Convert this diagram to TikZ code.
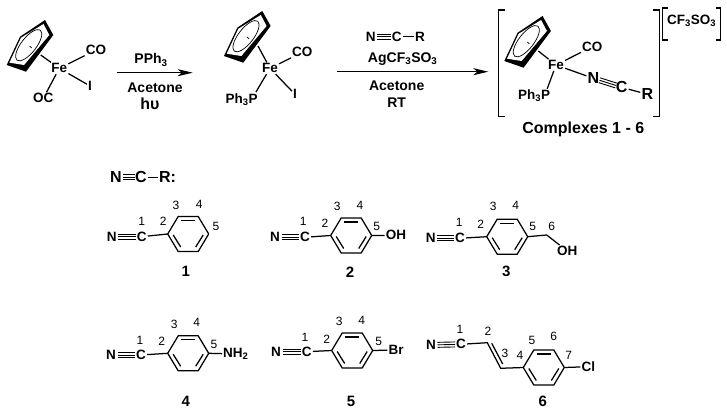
\documentclass[tikz,border=0pt]{standalone}
\usepackage{fontspec}
\setmainfont{Liberation Sans}
\usepackage{tikz}
\usetikzlibrary{positioning, arrows, arrows.meta, calc}

\tikzset{
  bond/.style={line width=1.25pt},
  rxn/.style={line width=1.25pt, -{Stealth[length=15pt,width=7pt,inset=4pt]}},
  brk/.style={line width=1.3pt},
  chem/.style={font=\fontsize{13.5}{15}\selectfont\bfseries, inner sep=1pt},
  bigchem/.style={font=\fontsize{16}{18}\selectfont\bfseries, inner sep=1pt},
  cond/.style={font=\fontsize{14}{16}\selectfont\bfseries, inner sep=1pt},
  num/.style={font=\fontsize{12}{13}\selectfont, inner sep=0pt},
  cpd/.style={font=\fontsize{15}{16}\selectfont\bfseries, inner sep=0pt},
  % cyclopentadienyl ring, origin at its centre
  cpring/.pic={
    \fill (14.3,-28)--(22.6,-13)--(-4.7,23.7)--(-24,17)--(-10.7,-11.3)--cycle;
    \fill[white] (12.8,-24)--(18.6,-13)--(-6.7,17)--(-21.3,14.7)--(-9.7,-10.2)--cycle;
    \draw[line width=0.7pt, shift={(-2,-2.8)}, rotate=52] (0,0) ellipse (19pt and 7.5pt);
    \draw[line width=0.7pt] (-1,-2)--(1,0);
    \coordinate (-b) at (10,7);
  },
  % benzene ring, origin at its left vertex
  benzene/.pic={
    \draw[bond, line join=round] (0,0)--(10.5,-17.5)--(30.5,-17.5)--(41,0)--(30.5,17.5)--(10.5,17.5)--cycle;
    \draw[bond] (13.5,-13.5)--(27.5,-13.5);
    \draw[bond] (5.5,1)--(13,13);
    \draw[bond] (35.5,1)--(28,13);
    \coordinate (-l) at (0,0);
    \coordinate (-r) at (41,0);
  }
}
\newcommand{\cnbond}[2]{%
  \coordinate (t1) at ($(#1)!6.5pt!(#2)$);
  \coordinate (t2) at ($(#2)!6pt!(#1)$);
  \foreach \s in {-2.5,0,2.5}{
    \draw[line width=0.9pt] ($(t1)!\s pt!90:(t2)$)--($(t2)!\s pt!-90:(t1)$);
  }
}

\begin{document}
\begin{tikzpicture}[x=1pt,y=-1pt]
\useasboundingbox (0,0) rectangle (727,411);

% First complex
\pic (cpa) at (30.7,48) {cpring};
\node[chem] (fea) at (59.3,68.3) {Fe};
\node[chem] (coa) at (96,50) {CO};
\node[chem] (ia) at (90,86) {I};
\node[chem] (oca) at (43.3,98.3) {OC};
\draw[bond] (cpa-b)--(fea);
\draw[bond] (fea)--(coa);
\draw[bond] (fea)--(ia);
\draw[bond] (fea)--(oca);

% First reaction arrow
\coordinate (ra1) at (117.3,72.7);
\coordinate (ra2) at (192.7,72.7);
\draw[rxn] (ra1)--(ra2);
\node[cond] (pph) at (151,60) {PPh\textsubscript{3}};
\node[cond] (ace1) at (155,87.3) {Acetone};
\node[bigchem] (hnu) at (150,104) {hυ};

% Second complex
\pic (cpb) at (248,39) {cpring};
\node[chem] (feb) at (270,68.3) {Fe};
\node[chem] (cob) at (302.3,52.3) {CO};
\node[chem] (ib) at (295,94.3) {I};
\node[chem] (ppb) at (241.7,99.3) {Ph\textsubscript{3}P};
\draw[bond] (cpb-b)--(feb);
\draw[bond] (feb)--(cob);
\draw[bond] (feb)--(ib);
\draw[bond] (feb)--([xshift=-3pt]ppb.north east);

% Second reaction arrow
\coordinate (rb1) at (337.3,71.7);
\coordinate (rb2) at (488.3,71.7);
\draw[rxn] (rb1)--(rb2);
\node[chem] (nr) at (370.7,36.7) {N};
\node[chem] (cr) at (396.7,36.7) {C};
\node[chem] (rr) at (420,36.7) {R};
\cnbond{nr}{cr}
\draw[bond] (cr)--(rr);
\node[cond] (ag) at (402.7,59.3) {AgCF\textsubscript{3}SO\textsubscript{3}};
\node[cond] (ace2) at (396.7,86) {Acetone};
\node[cond] (rt) at (396.7,102.7) {RT};

% Product complex
\pic (cpc) at (528.3,44) {cpring};
\node[chem] (fec) at (556,65) {Fe};
\node[chem] (coc) at (592.3,46.7) {CO};
\node[chem] (ppc) at (534,96) {Ph\textsubscript{3}P};
\node[bigchem] (nc) at (593.3,78.3) {N};
\node[bigchem] (cc) at (621.7,87.3) {C};
\node[bigchem] (rc) at (647.3,94.3) {R};
\draw[bond] (cpc-b)--(fec);
\draw[bond] (fec)--(coc);
\draw[bond] (fec)--(nc);
\draw[bond] (fec)--([xshift=-4pt]ppc.north east);
\cnbond{nc}{cc}
\draw[bond] (cc)--(rc);
% Brackets
\draw[brk] (505,10)--(498.3,10)--(498.3,116.7)--(505,116.7);
\draw[brk] (653.3,10)--(659.3,10)--(659.3,116.7)--(653.3,116.7);
\draw[brk] (668,8)--(662.7,8)--(662.7,40)--(668,40);
\draw[brk] (716,8)--(720.7,8)--(720.7,40)--(716,40);
\node[chem] (anion) at (691.7,20.7) {CF\textsubscript{3}SO\textsubscript{3}};
\node[font=\fontsize{16}{18}\selectfont\bfseries, inner sep=0pt] (cplx) at (583.3,129.3) {Complexes 1 - 6};

% Ligand heading
\node[bigchem] (nh) at (116,177.3) {N};
\node[bigchem] (ch) at (141,177.3) {C};
\node[bigchem] (rh) at (167.5,177.3) {R:};
\cnbond{nh}{ch}
\draw[bond] (ch)--(rh);

% Ligand 1
\node[chem] (n1) at (111.7,236.7) {N};
\node[chem] (c1) at (141.7,236.7) {C};
\pic (r1) at (167.7,234) {benzene};
\cnbond{n1}{c1}
\draw[bond] (c1)--(r1-l);
\foreach \t/\p in {1/{141.7,221},2/{163.3,221.7},3/{176,205.7},4/{199.3,204.3},5/{216,226.7}}{
  \node[num] (a\t) at (\p) {\t};
}
\node[cpd] (l1) at (185.7,271) {1};

% Ligand 2
\node[chem] (n2) at (275,237.3) {N};
\node[chem] (c2) at (305,237.3) {C};
\node[chem] (oh2) at (396,235.3) {OH};
\pic (r2) at (330.7,235.5) {benzene};
\cnbond{n2}{c2}
\draw[bond] (c2)--(r2-l);
\draw[bond] (r2-r)--(oh2);
\foreach \t/\p in {1/{303.3,221},2/{325,223.3},3/{337.3,206},4/{360,205},5/{376.7,226}}{
  \node[num] (b\t) at (\p) {\t};
}
\node[cpd] (l2) at (350,272.7) {2};

% Ligand 3
\node[chem] (n3) at (430.7,238.3) {N};
\node[chem] (c3) at (460,238.3) {C};
\node[chem] (oh3) at (567.3,251) {OH};
\coordinate (ch3) at (546.7,235);
\pic (r3) at (486.7,236.7) {benzene};
\cnbond{n3}{c3}
\draw[bond] (c3)--(r3-l);
\draw[bond] (r3-r)--(ch3)--(oh3);
\foreach \t/\p in {1/{459.3,222.7},2/{480.7,224},3/{493.3,206.7},4/{515.7,205.7},5/{532.7,226.7},6/{551.7,226.7}}{
  \node[num] (d\t) at (\p) {\t};
}
\node[cpd] (l3) at (506.3,271) {3};

% Ligand 4
\node[chem] (n4) at (111,355) {N};
\node[chem] (c4) at (141,355) {C};
\node[chem, anchor=west] (nh4) at (222,354) {NH\textsubscript{2}};
\pic (r4) at (167.7,353.3) {benzene};
\cnbond{n4}{c4}
\draw[bond] (c4)--(r4-l);
\draw[bond] (r4-r)--(nh4);
\foreach \t/\p in {1/{140,340},2/{161.7,341.7},3/{174.3,324},4/{196.7,322.7},5/{214,344.3}}{
  \node[num] (e\t) at (\p) {\t};
}
\node[cpd] (l4) at (185.7,401) {4};

% Ligand 5
\node[chem] (n5) at (276,351.7) {N};
\node[chem] (c5) at (306.7,351.7) {C};
\node[chem] (br5) at (396,350) {Br};
\pic (r5) at (331.7,350.5) {benzene};
\cnbond{n5}{c5}
\draw[bond] (c5)--(r5-l);
\draw[bond] (r5-r)--(br5);
\foreach \t/\p in {1/{305,337.3},2/{326.7,339},3/{339.3,321.7},4/{361.7,320.7},5/{378.7,341.7}}{
  \node[num] (f\t) at (\p) {\t};
}
\node[cpd] (l5) at (351,401) {5};

% Ligand 6
\node[chem] (n6) at (431,345) {N};
\node[chem] (c6) at (461,344.3) {C};
\node[chem] (cl6) at (588.3,366.7) {Cl};
\coordinate (v2) at (487.3,342.7);
\coordinate (v3) at (500.7,368.3);
\pic (r6) at (523.3,367.5) {benzene};
\cnbond{n6}{c6}
\draw[bond] (c6)--(v2)--(v3)--(r6-l);
\draw[bond] (491.7,343.3)--(502.7,364);
\draw[bond] (r6-r)--(cl6);
\foreach \t/\p in {1/{460,329},2/{488,331},3/{505,353.3},4/{520,355},5/{532,340},6/{553.7,336.7},7/{568.7,355}}{
  \node[num] (g\t) at (\p) {\t};
}
\node[cpd] (l6) at (542.7,401.7) {6};
\end{tikzpicture}
\end{document}
